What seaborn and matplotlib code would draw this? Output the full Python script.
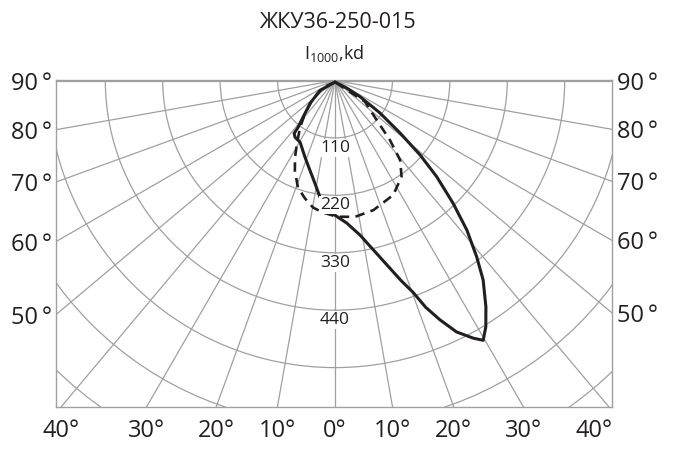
import numpy as np
import pandas as pd
import matplotlib
matplotlib.use("Agg")
import matplotlib.pyplot as plt
from matplotlib.patches import Circle
import seaborn as sns

# ---------------- data (angle from nadir in degrees, intensity in kd per 1000 lm)
title = "ЖКУ36-250-015"
unit_label = r"$\mathregular{I_{1000}}$,kd"

solid_angle = [0, -56.3, -47.4, -40.9, -38.2, -37.7, -35.1, -29.4, -21.3, -15.5,
               -11.0, -6.1, -0.7, 4.7, 9.2, 12.5, 15.8, 18.3, 20.2, 21.8, 23.7,
               25.8, 28.2, 29.7, 31.5, 33.7, 36.6, 38.8, 41.4, 43.9, 46.6, 48.8,
               51.1, 54.2, 57.1, 57.3, 0]
solid_I = [3, 35, 65, 94, 115, 128, 133, 136, 158, 179, 201, 235, 256, 274, 300,
           330, 368, 404, 432, 468, 501, 535, 560, 573, 553, 521, 476, 433, 382,
           326, 268, 217, 160, 106, 57, 27, 3]

dash_angle = [0, -59.7, -49.0, -42.3, -36.7, -31.1, -27.5, -24.0, -19.1, -14.3,
              -9.8, -5.2, 0.8, 8.4, 16.5, 27.0, 34.7, 39.3, 42.7, 46.5, 54.8,
              51.6, 0]
dash_I = [3, 27, 58, 85, 112, 141, 166, 189, 217, 233, 247, 254, 261, 264, 259,
          246, 224, 197, 155, 110, 70, 29, 3]

ring_values = [110, 220, 330, 440, 550, 660, 770, 880]
ring_labels = ["110", "220", "330", "440"]
radial_angles = list(range(-90, 91, 10))
side_ticks = [90, 80, 70, 60, 50]
bottom_ticks = [-40, -30, -20, -10, 0, 10, 20, 30, 40]

# ---------------- style
sns.set_theme(style="white")
plt.rcParams["font.family"] = ["Open Sans", "DejaVu Sans"]
ink = "#231f20"
grid_c = "#a0a0a0"

W, H = 674, 458
fig = plt.figure(figsize=(W / 100, H / 100), dpi=100)
S = 0.522                      # px per kd
pole_x, pole_y = 335.0, 80.5   # pixel position of pole
left, right, top, bottom = 56.0, 612.0, 79.5, 407.0
ax = fig.add_axes([left / W, (H - bottom) / H, (right - left) / W, (bottom - top) / H])
xlim = (-(pole_x - left) / S, (right - pole_x) / S)
ylim = (-(bottom - pole_y) / S, (pole_y - top) / S)
ax.set_xlim(*xlim)
ax.set_ylim(*ylim)
ax.set_xticks([])
ax.set_yticks([])
for sp in ax.spines.values():
    sp.set_color(grid_c)
    sp.set_linewidth(1.0)

# grid: rings and radial lines
for r in ring_values:
    ax.add_patch(Circle((0, 0), r, fill=False, ec=grid_c, lw=0.9, zorder=1))
far = 3000
for a in radial_angles:
    t = np.deg2rad(a)
    ax.plot([0, far * np.sin(t)], [0, -far * np.cos(t)], color=grid_c, lw=0.9, zorder=1)

# curves
def to_xy(ang, inten):
    t = np.deg2rad(np.asarray(ang, float))
    i = np.asarray(inten, float)
    return i * np.sin(t), -i * np.cos(t)

sx, sy = to_xy(solid_angle, solid_I)
dx, dy = to_xy(dash_angle, dash_I)
df = pd.concat([
    pd.DataFrame({"x": sx, "y": sy, "plane": "C0"}),
    pd.DataFrame({"x": dx, "y": dy, "plane": "C90"}),
])
sns.lineplot(data=df[df.plane == "C0"], x="x", y="y", sort=False, estimator=None,
             color=ink, lw=2.2, ax=ax, zorder=3, legend=False)
sns.lineplot(data=df[df.plane == "C90"], x="x", y="y", sort=False, estimator=None,
             color=ink, lw=1.9, ax=ax, zorder=3, legend=False)
ax.lines[-1].set_dashes([3.6, 2.4])
for ln in ax.lines[-2:]:
    ln.set_solid_joinstyle("round")
    ln.set_dash_joinstyle("round")
ax.set_xlabel("")
ax.set_ylabel("")

# ring labels
for lab in ring_labels:
    v = float(lab)
    ax.text(0.0, -v - 2.0 / S, lab, ha="center", va="top", fontsize=12.5,
            color=ink, zorder=4,
            bbox=dict(boxstyle="square,pad=0.05", fc="white", ec="none"))

# side tick labels
for a in side_ticks:
    t = np.deg2rad(a)
    yl = -abs(xlim[0]) / np.tan(t) if a != 90 else 0.0
    yr = -abs(xlim[1]) / np.tan(t) if a != 90 else 0.0
    ax.text(xlim[0] - 4 / S, yl - 3 / S, f"{a}\u2009°", ha="right", va="center",
            fontsize=17, color=ink, clip_on=False)
    ax.text(xlim[1] + 5 / S, yr - 3 / S, f"{a}\u2009°", ha="left", va="center",
            fontsize=17, color=ink, clip_on=False)

# bottom tick labels
for a in bottom_ticks:
    xb = -ylim[0] * np.tan(np.deg2rad(a))
    ha = "center"
    if xb + 18 / S > xlim[1]:
        xb, ha = xlim[1] + 1 / S, "right"
    ax.text(xb, ylim[0] - 12 / S, f"{abs(a)}°", ha=ha, va="top",
            fontsize=17, color=ink, clip_on=False)

# titles
fig.text(337 / W, 1 - 22 / H, title, ha="center", va="center", fontsize=15.5, color=ink)
fig.text(334 / W, 1 - 54 / H, unit_label, ha="center", va="center", fontsize=13,
         color=ink)

fig.savefig("out.png", dpi=100)
